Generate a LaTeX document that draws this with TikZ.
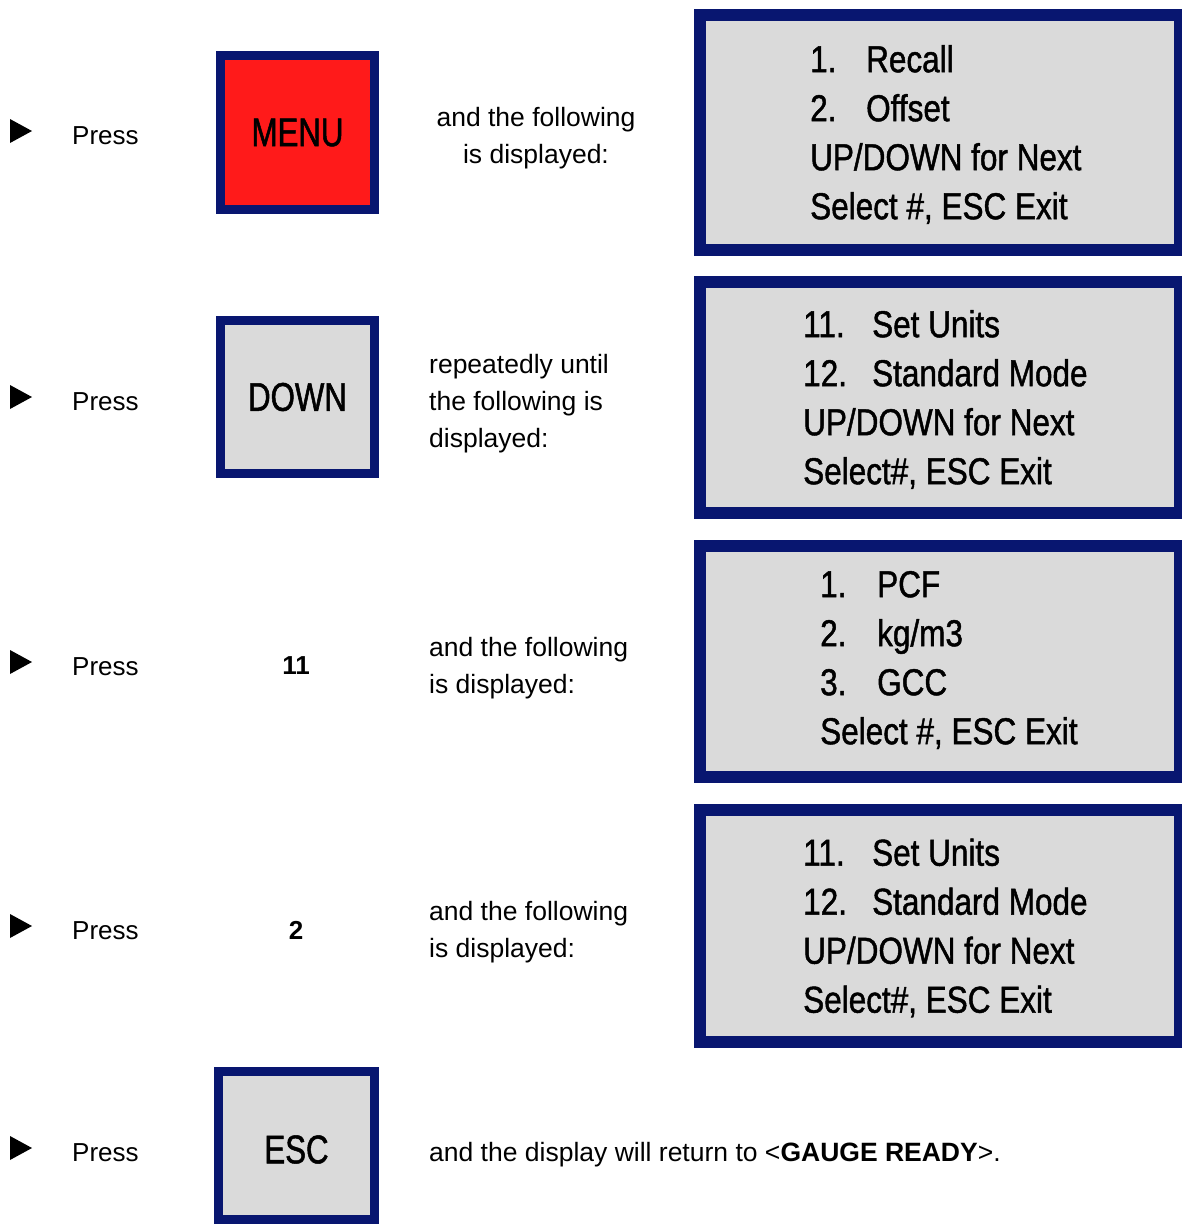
\documentclass[tikz,border=0pt]{standalone}
\usepackage{fontspec}
\setmainfont{Liberation Sans}
\newfontfamily\lcdfont[FakeStretch=0.84,FakeBold=1.2]{Liberation Sans}
\newfontfamily\keyfont[FakeStretch=0.78,FakeBold=1.3]{Liberation Sans}
\definecolor{navy}{RGB}{8,22,112}
\definecolor{keyred}{RGB}{255,26,26}
\definecolor{lcdgrey}{RGB}{218,218,218}

\begin{document}
\begin{tikzpicture}[x=1pt,y=-1pt,
  key/.style={draw=navy,line width=9pt,fill=lcdgrey,inner sep=0pt,
    minimum width=154pt,minimum height=154pt,font=\keyfont\fontsize{40}{40}\selectfont},
  lcd/.style={draw=navy,line width=12pt,fill=lcdgrey,minimum width=480pt,inner sep=0pt},
  lcdtext/.style={anchor=west,align=left,inner sep=0pt,font=\lcdfont\fontsize{37.5}{49}\selectfont},
  press/.style={anchor=west,inner sep=0pt,font=\fontsize{26}{31}\selectfont},
  note/.style={inner sep=0pt,font=\fontsize{26.5}{37}\selectfont}]
  \clip (0,0) rectangle (1182,1224);
  \foreach \y/\t in {131/1,397/2,662/3,926/4,1148/5} {
    \fill (10,\y-12) -- (32,\y) -- (10,\y+12) -- cycle;
    \node[press] (press\t) at (72,\y+5) {Press};
  }
  % keys
  \node[key,fill=keyred] (menu) at (297.5,132.5) {MENU};
  \node[key,minimum height=153pt] (down) at (297.5,397) {DOWN};
  \node[note,font=\bfseries\fontsize{26}{31}\selectfont] (k11) at (296,666) {11};
  \node[note,font=\bfseries\fontsize{26}{31}\selectfont] (k2) at (296,930) {2};
  \node[key,minimum width=156pt,minimum height=148pt] (esc) at (296.5,1145.5)
    {\raisebox{-4pt}[\height][\depth]{ESC}};
  % what is said
  \node[note,align=center] (say1) at (536,138.5) {and the following\\is displayed:};
  \node[note,align=left,anchor=west] (say2) at (429,404) {repeatedly until\\the following is\\displayed:};
  \node[note,align=left,anchor=west] (say3) at (429,668.5) {and the following\\is displayed:};
  \node[note,align=left,anchor=west] (say4) at (429,932.5) {and the following\\is displayed:};
  \node[note,anchor=west] (say5) at (429,1155) {and the display will return to <\textbf{GAUGE READY}>.};
  % displays
  \foreach \n/\y/\h in {1/132.5/235,2/397.5/231,3/661.5/231,4/926/232}
    \node[lcd,minimum height=\h pt] (lcd\n) at (940,\y) {};
  \node[lcdtext] (menu1) at (810,134.5)
    {\makebox[56pt][l]{1.}Recall\\\makebox[56pt][l]{2.}Offset\\UP/DOWN for Next\\Select \#, ESC Exit};
  \node[lcdtext] (menu2) at (803,399.5)
    {\makebox[69pt][l]{11.}Set Units\\\makebox[69pt][l]{12.}Standard Mode\\UP/DOWN for Next\\Select\#, ESC Exit};
  \node[lcdtext] (units) at (820,660)
    {\makebox[57pt][l]{1.}PCF\\\makebox[57pt][l]{2.}kg/m3\\\makebox[57pt][l]{3.}GCC\\Select \#, ESC Exit};
  \node[lcdtext] (menu3) at (803,928)
    {\makebox[69pt][l]{11.}Set Units\\\makebox[69pt][l]{12.}Standard Mode\\UP/DOWN for Next\\Select\#, ESC Exit};
\end{tikzpicture}
\end{document}
